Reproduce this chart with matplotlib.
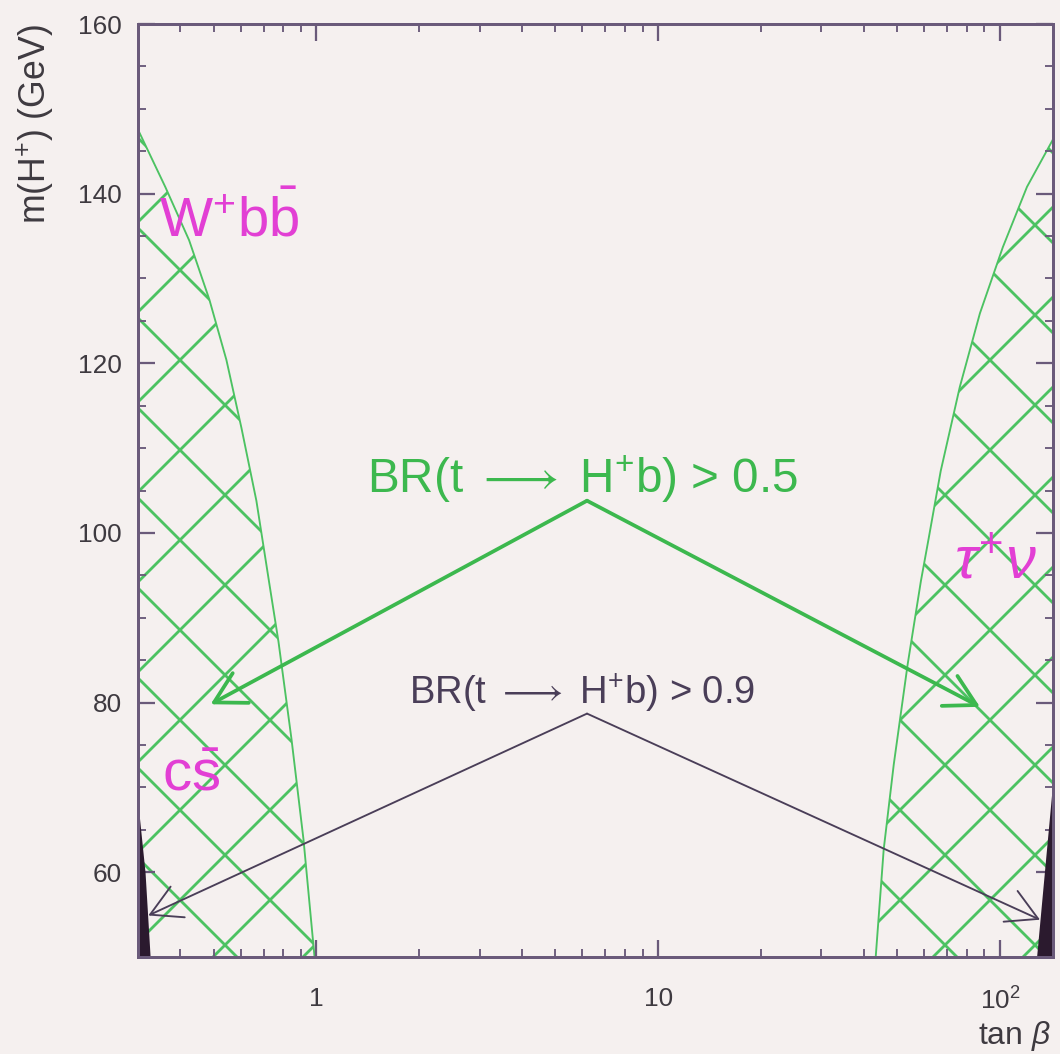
import matplotlib
matplotlib.use('Agg')
import matplotlib.pyplot as plt
from matplotlib.ticker import FixedLocator, FixedFormatter, MultipleLocator, LogLocator, NullFormatter

# figure dpi picked so the 'x' hatch comes out as a wide diamond mesh
DPI = 270

# left hatched band: tan(beta) boundary vs m(H+)
left_m = [147.6, 140.8, 134.5, 127.5, 120.4, 112.4, 103.8, 94.0, 87.2, 75.7, 63.9, 50.0]
left_tb = [0.30, 0.361, 0.424, 0.486, 0.545, 0.603, 0.667, 0.728, 0.774, 0.845, 0.916, 0.987]

# right hatched band
right_m = [146.4, 140.8, 133.7, 125.9, 117.2, 107.3, 99.4, 94.3, 84.5, 72.7, 62.7, 50.0]
right_tb = [143.0, 120.0, 102.0, 87.4, 76.3, 67.1, 61.9, 58.7, 53.7, 48.9, 45.7, 43.3]

# dark excluded corners
black_left_m = [68.3, 60.0, 50.0]
black_left_tb = [0.30, 0.315, 0.326]
black_right_m = [71.0, 60.8, 50.0]
black_right_tb = [143.0, 135.5, 128.0]

x_ticks = [1, 10, 100]
x_tick_labels = ['1', '10', r'10$^2$']

bg = '#f5f0ef'
green = '#3cb84e'
hatch_green = '#4cc262'
magenta = '#e23fd4'
dark = '#4a3e58'
spine = '#6a5a7a'
label_col = '#3e3a40'

plt.rcParams['font.family'] = ['Liberation Sans', 'DejaVu Sans']
plt.rcParams['mathtext.fontset'] = 'custom'
plt.rcParams['mathtext.rm'] = 'Liberation Sans'
plt.rcParams['mathtext.it'] = 'Liberation Sans:italic'
plt.rcParams['hatch.linewidth'] = 0.75

fig = plt.figure(figsize=(1060 / DPI, 1054 / DPI), dpi=DPI, facecolor=bg)
ax = fig.add_axes([0.130, 0.092, 0.8634, 0.8852], facecolor=bg)
ax.set_xscale('log')
ax.set_xlim(0.3, 143)
ax.set_ylim(50, 160)

# hatched regions
ax.fill_betweenx(left_m, 0.3, left_tb, facecolor='none', edgecolor=hatch_green,
                 hatch='x', linewidth=0, zorder=1)
ax.plot(left_tb, left_m, color=hatch_green, lw=0.5, zorder=1.2)
ax.fill_betweenx(right_m, right_tb, 143, facecolor='none', edgecolor=hatch_green,
                 hatch='x', linewidth=0, zorder=1)
ax.plot(right_tb, right_m, color=hatch_green, lw=0.5, zorder=1.2)

# black corners
ax.fill_betweenx(black_left_m, 0.3, black_left_tb, color='#2b1a2e', lw=0, zorder=2)
ax.fill_betweenx(black_right_m, black_right_tb, 143, color='#2b1a2e', lw=0, zorder=2)

# arrows
apex_05 = (6.19, 103.8)
apex_09 = (6.19, 78.7)
for tip in [(0.49, 79.8), (87.4, 79.5)]:
    ax.annotate('', xy=tip, xytext=apex_05,
                arrowprops=dict(arrowstyle='->,head_length=0.45,head_width=0.25',
                                color=green, lw=1.0, shrinkA=0, shrinkB=0,
                                mutation_scale=18), zorder=3)
for tip in [(0.322, 54.9), (131, 54.4)]:
    ax.annotate('', xy=tip, xytext=apex_09,
                arrowprops=dict(arrowstyle='->,head_length=0.45,head_width=0.25',
                                color=dark, lw=0.5, shrinkA=0, shrinkB=0,
                                mutation_scale=18), zorder=3)

ax.text(6.0, 104.7, r'BR(t $\longrightarrow$ H$^{+}$b) > 0.5', color=green,
        fontsize=12.7, ha='center', va='baseline', zorder=4)
ax.text(6.0, 79.8, r'BR(t $\longrightarrow$ H$^{+}$b) > 0.9', color=dark,
        fontsize=10.2, ha='center', va='baseline', zorder=4)

# channel labels
ax.text(0.345, 135.0, r'W$^{+}$b$\bar{\mathrm{b}}$', color=magenta, fontsize=15,
        ha='left', va='baseline', zorder=4)
ax.text(0.43, 71.5, r'c$\bar{\mathrm{s}}$', color=magenta, fontsize=15.5,
        ha='center', va='center', zorder=4)
ax.text(97, 96.5, r'$\tau^{+}\nu$', color=magenta, fontsize=16,
        ha='center', va='center', zorder=4)

# axes styling
ax.xaxis.set_major_locator(FixedLocator(x_ticks))
ax.xaxis.set_major_formatter(FixedFormatter(x_tick_labels))
ax.xaxis.set_minor_locator(LogLocator(base=10, subs=range(2, 10)))
ax.xaxis.set_minor_formatter(NullFormatter())
ax.yaxis.set_major_locator(MultipleLocator(20))
ax.yaxis.set_minor_locator(MultipleLocator(5))
ax.tick_params(which='both', direction='in', top=True, right=True, color=spine,
               labelcolor=label_col, labelsize=7)
ax.tick_params(which='major', length=4.5, width=0.6)
ax.tick_params(which='minor', length=2.2, width=0.5)
ax.tick_params(axis='x', pad=8.0)
ax.tick_params(axis='y', pad=4.2)
for s in ax.spines.values():
    s.set_color(spine)
    s.set_linewidth(0.8)
    s.set_zorder(5)

ax.set_ylabel(r'm(H$^{+}$) (GeV)', fontsize=9.5, color=label_col, loc='top', labelpad=6)
ax.set_xlabel(r'tan $\beta$', fontsize=8.5, color=label_col, loc='right')
ax.xaxis.set_label_coords(0.997, -0.066)

fig.savefig('out.png', dpi=DPI, facecolor=bg)
